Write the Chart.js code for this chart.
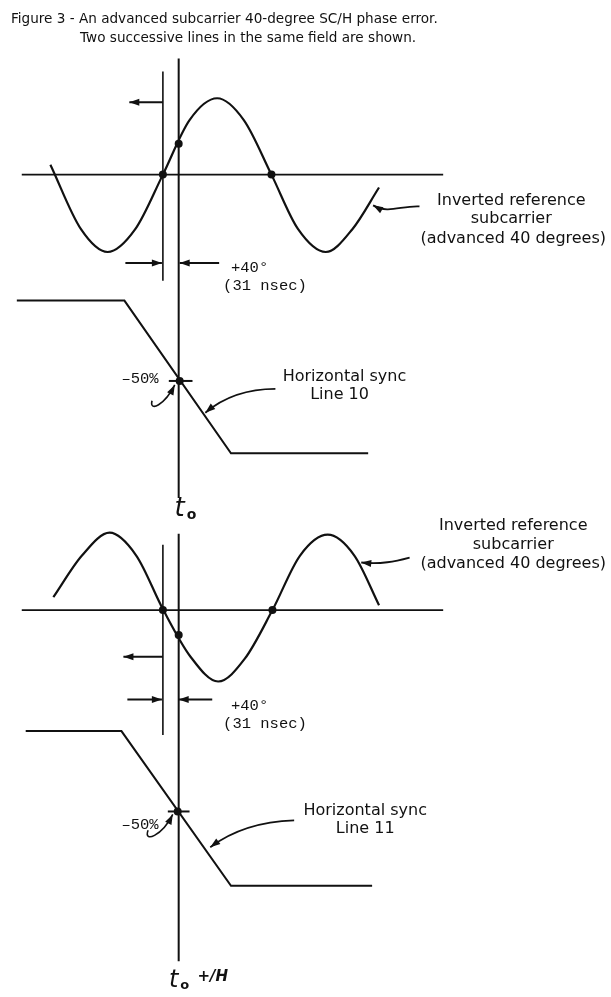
<!DOCTYPE html>
<html>
<head>
<meta charset="utf-8">
<script src="https://cdn.jsdelivr.net/npm/chart.js@4.4.1/dist/chart.umd.min.js"></script>
<style>
  html, body { margin: 0; padding: 0; background: #fff; }
  canvas { display: block; }
</style>
</head>
<body>
<canvas id="fig" width="611" height="997"></canvas>
<script>
// Page coordinates: x 0..611 left to right, y 0..997 top to bottom

// Line 10: inverted reference subcarrier (top)
const topWaveX = [47, 78, 105, 133, 161, 188, 216, 243, 271, 298, 326, 353, 380];
const topWaveY = [162, 227, 250, 227, 172, 117, 95, 117, 172, 227, 250, 227, 185];
// Line 11: inverted reference subcarrier (bottom)
const botWaveX = [50, 79, 107, 134, 161, 189, 217, 244, 272, 300, 328, 355, 380];
const botWaveY = [598, 556, 533, 556, 610, 658, 683, 660, 611, 556, 535, 556, 606];

// Horizontal sync edges
const topSyncX = [13, 122, 230, 369];
const topSyncY = [299, 299, 453, 453];
const botSyncX = [22, 119, 230, 373];
const botSyncY = [733, 733, 889, 889];

// Marked points: zero crossings, t0 samples, 50% sync points
const topDotsX = [161, 271, 177, 178];
const topDotsY = [172, 172, 141, 380];
const botDotsX = [161, 272, 177, 176];
const botDotsY = [611, 611, 636, 814];

// Reference lines
const axisX = [18, 445];
const topAxisY = 172;
const botAxisY = 611;
const topT0 = { x: 177, y0: 55, y1: 498 };
const topZero = { x: 161, y0: 68, y1: 279 };
const botT0 = { x: 177, y0: 534, y1: 965 };
const botZero = { x: 161, y0: 545, y1: 737 };
const topTick = { x0: 167, x1: 191, y: 380 };
const botTick = { x0: 166, x1: 188, y: 814 };

const pts = (xs, ys) => xs.map((x, i) => ({ x: x, y: ys[i] }));
const seg = (x0, y0, x1, y1, w) => ({
    data: [{ x: x0, y: y0 }, { x: x1, y: y1 }],
    showLine: true, pointRadius: 0, borderColor: '#111', borderWidth: w || 2
});
const wave = (xs, ys) => ({
    data: pts(xs, ys), showLine: true, pointRadius: 0,
    borderColor: '#111', borderWidth: 2.2, tension: 0.4, cubicInterpolationMode: 'monotone'
});
const poly = (xs, ys) => ({
    data: pts(xs, ys), showLine: true, pointRadius: 0, borderColor: '#111', borderWidth: 2
});
const dots = (xs, ys) => ({
    data: pts(xs, ys), showLine: false, pointRadius: 4, backgroundColor: '#111', borderWidth: 0
});

// Text and arrows drawn on top through the same scales
const annotations = {
    id: 'annotations',
    afterDatasetsDraw(chart) {
        const ctx = chart.ctx;
        const sx = chart.scales.x, sy = chart.scales.y;
        const X = v => sx.getPixelForValue(v);
        const Y = v => sy.getPixelForValue(v);

        ctx.save();
        ctx.fillStyle = '#111';
        ctx.strokeStyle = '#111';

        function text(str, x, y, font, align) {
            ctx.font = font;
            ctx.textAlign = align || 'center';
            ctx.textBaseline = 'middle';
            ctx.fillText(str, X(x), Y(y));
        }
        function head(tx, ty, fx, fy) {
            const a = Math.atan2(Y(ty) - Y(fy), X(tx) - X(fx));
            const L = 10, W = 3.5;
            ctx.beginPath();
            ctx.moveTo(X(tx), Y(ty));
            ctx.lineTo(X(tx) - L * Math.cos(a) + W * Math.sin(a), Y(ty) - L * Math.sin(a) - W * Math.cos(a));
            ctx.lineTo(X(tx) - L * Math.cos(a) - W * Math.sin(a), Y(ty) - L * Math.sin(a) + W * Math.cos(a));
            ctx.closePath();
            ctx.fill();
        }
        function arrow(x0, y0, x1, y1) {
            ctx.lineWidth = 2;
            ctx.beginPath();
            ctx.moveTo(X(x0), Y(y0));
            ctx.lineTo(X(x1), Y(y1));
            ctx.stroke();
            head(x1, y1, x0, y0);
        }
        function curve(x0, y0, c1x, c1y, c2x, c2y, x1, y1, w) {
            ctx.lineWidth = w || 1.8;
            ctx.beginPath();
            ctx.moveTo(X(x0), Y(y0));
            ctx.bezierCurveTo(X(c1x), Y(c1y), X(c2x), Y(c2y), X(x1), Y(y1));
            ctx.stroke();
            head(x1, y1, c2x, c2y);
        }

        const sans = '"DejaVu Sans", sans-serif';
        const mono = '"Liberation Mono", monospace';

        // Title
        text('Figure 3 - An advanced subcarrier 40-degree SC/H phase error.', 7, 16, '13.6px ' + sans, 'left');
        text('Two successive lines in the same field are shown.', 77, 35, '13.6px ' + sans, 'left');

        // Line 10 labels
        text('Inverted reference', 514, 198, '16px ' + sans);
        text('subcarrier', 514, 217, '16px ' + sans);
        text('(advanced 40 degrees)', 516, 237, '16px ' + sans);
        curve(421, 204, 402, 203, 390, 212, 374, 203);
        arrow(161, 99, 127, 99);
        arrow(123, 261, 160, 261);
        arrow(218, 261, 178, 261);
        text('+40\u00b0', 230, 266, '15.5px ' + mono, 'left');
        text('(31 nsec)', 222, 284, '15.5px ' + mono, 'left');
        text('\u201350%', 119, 378, '15.5px ' + mono, 'left');
        curve(150, 400, 147, 412, 163, 404, 173, 384, 1.6);
        text('Horizontal sync', 345, 376, '16px ' + sans);
        text('Line 10', 340, 394, '16px ' + sans);
        curve(275, 388, 247, 388, 222, 397, 204, 412);
        text('t', 178, 509, 'italic 26px ' + sans);
        text('o', 190, 515, 'bold 14px ' + sans);

        // Line 11 labels
        text('Inverted reference', 516, 526, '16px ' + sans);
        text('subcarrier', 516, 545, '16px ' + sans);
        text('(advanced 40 degrees)', 516, 564, '16px ' + sans);
        curve(411, 558, 396, 562, 382, 565, 362, 563);
        arrow(161, 658, 121, 658);
        arrow(125, 701, 160, 701);
        arrow(211, 701, 177, 701);
        text('+40\u00b0', 230, 708, '15.5px ' + mono, 'left');
        text('(31 nsec)', 222, 726, '15.5px ' + mono, 'left');
        text('\u201350%', 119, 828, '15.5px ' + mono, 'left');
        curve(146, 833, 141, 846, 160, 839, 171, 817, 1.6);
        text('Horizontal sync', 366, 813, '16px ' + sans);
        text('Line 11', 366, 832, '16px ' + sans);
        curve(294, 823, 262, 824, 232, 833, 209, 850);
        text('t', 172, 985, 'italic 24px ' + sans);
        text('o', 183, 990, 'bold 13px ' + sans);
        text('+/H', 196, 981, 'italic bold 15px ' + sans, 'left');

        ctx.restore();
    }
};

new Chart(document.getElementById('fig'), {
    type: 'scatter',
    data: {
        datasets: [
            wave(topWaveX, topWaveY),
            wave(botWaveX, botWaveY),
            poly(topSyncX, topSyncY),
            poly(botSyncX, botSyncY),
            seg(axisX[0], topAxisY, axisX[1], topAxisY, 1.8),
            seg(axisX[0], botAxisY, axisX[1], botAxisY, 1.8),
            seg(topT0.x, topT0.y0, topT0.x, topT0.y1),
            seg(topZero.x, topZero.y0, topZero.x, topZero.y1, 1.6),
            seg(botT0.x, botT0.y0, botT0.x, botT0.y1),
            seg(botZero.x, botZero.y0, botZero.x, botZero.y1, 1.6),
            seg(topTick.x0, topTick.y, topTick.x1, topTick.y, 2),
            seg(botTick.x0, botTick.y, botTick.x1, botTick.y, 2),
            dots(topDotsX, topDotsY),
            dots(botDotsX, botDotsY)
        ]
    },
    options: {
        responsive: false,
        animation: false,
        events: [],
        layout: { padding: 0 },
        plugins: { legend: { display: false }, tooltip: { enabled: false } },
        scales: {
            x: { type: 'linear', min: 0, max: 611, display: false },
            y: { type: 'linear', min: 0, max: 997, reverse: true, display: false }
        }
    },
    plugins: [annotations]
});
</script>
</body>
</html>
